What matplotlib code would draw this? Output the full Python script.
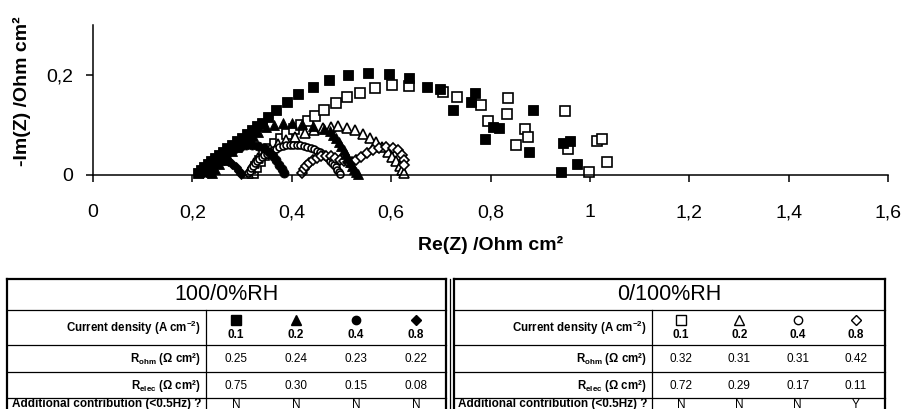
import matplotlib
matplotlib.use('Agg')
import matplotlib.pyplot as plt
from matplotlib.ticker import MultipleLocator, FuncFormatter

plt.rcParams['font.family'] = ['Liberation Sans', 'DejaVu Sans']
plt.rcParams['mathtext.default'] = 'regular'

# Nyquist data, 100/0%RH (filled markers)
x_sq_f = [0.212, 0.218, 0.224, 0.231, 0.238, 0.245, 0.253, 0.261, 0.270, 0.279, 0.289, 0.299, 0.310,
          0.320, 0.330, 0.340, 0.352, 0.368, 0.390, 0.412, 0.443, 0.475, 0.513, 0.553, 0.596, 0.636,
          0.672, 0.698, 0.724, 0.760, 0.769, 0.789, 0.805, 0.817, 0.877, 0.885, 0.942, 0.946, 0.960, 0.974]
y_sq_f = [0.004, 0.010, 0.016, 0.022, 0.028, 0.034, 0.040, 0.046, 0.053, 0.060, 0.067, 0.074, 0.082,
          0.090, 0.097, 0.104, 0.116, 0.130, 0.146, 0.162, 0.176, 0.190, 0.200, 0.204, 0.202, 0.194,
          0.176, 0.172, 0.130, 0.146, 0.164, 0.072, 0.096, 0.094, 0.046, 0.130, 0.006, 0.064, 0.068, 0.022]

x_tri_f = [0.240, 0.246, 0.253, 0.261, 0.270, 0.280, 0.290, 0.301, 0.312, 0.322, 0.332, 0.348, 0.364,
           0.382, 0.400, 0.420, 0.443, 0.465, 0.476, 0.484, 0.490, 0.495, 0.500, 0.505, 0.510, 0.514,
           0.518, 0.522, 0.526, 0.530, 0.533]
y_tri_f = [0.003, 0.012, 0.021, 0.030, 0.039, 0.048, 0.056, 0.064, 0.071, 0.078, 0.086, 0.095, 0.100,
           0.103, 0.104, 0.102, 0.098, 0.092, 0.087, 0.080, 0.073, 0.065, 0.057, 0.049, 0.041, 0.033,
           0.025, 0.018, 0.011, 0.005, 0.002]

x_circ_f = [0.232, 0.238, 0.245, 0.253, 0.262, 0.272, 0.283, 0.295, 0.308, 0.321, 0.333, 0.344, 0.354,
            0.362, 0.369, 0.375, 0.380, 0.384]
y_circ_f = [0.003, 0.012, 0.021, 0.030, 0.038, 0.045, 0.051, 0.056, 0.059, 0.060, 0.058, 0.053, 0.046,
            0.038, 0.029, 0.020, 0.011, 0.003]

x_dia_f = [0.222, 0.227, 0.233, 0.240, 0.248, 0.256, 0.264, 0.272, 0.280, 0.287, 0.293, 0.297]
y_dia_f = [0.003, 0.011, 0.018, 0.024, 0.028, 0.030, 0.030, 0.027, 0.022, 0.015, 0.008, 0.002]

# Nyquist data, 0/100%RH (open markers)
x_sq_o = [0.322, 0.328, 0.336, 0.345, 0.355, 0.366, 0.378, 0.391, 0.405, 0.418, 0.432, 0.447, 0.465,
          0.489, 0.511, 0.537, 0.567, 0.602, 0.636, 0.704, 0.732, 0.781, 0.795, 0.835, 0.833, 0.869,
          0.875, 0.852, 0.949, 0.956, 1.014, 1.024, 1.035, 0.998]
y_sq_o = [0.004, 0.016, 0.028, 0.040, 0.051, 0.062, 0.072, 0.082, 0.091, 0.100, 0.108, 0.118, 0.130,
          0.144, 0.156, 0.164, 0.174, 0.180, 0.177, 0.166, 0.155, 0.140, 0.108, 0.154, 0.122, 0.091,
          0.075, 0.060, 0.128, 0.051, 0.068, 0.072, 0.025, 0.006]

x_tri_o = [0.312, 0.317, 0.324, 0.333, 0.344, 0.357, 0.372, 0.389, 0.407, 0.426, 0.445, 0.462, 0.478,
           0.494, 0.511, 0.527, 0.543, 0.557, 0.570, 0.582, 0.593, 0.602, 0.610, 0.617, 0.622, 0.626]
y_tri_o = [0.003, 0.013, 0.023, 0.033, 0.043, 0.052, 0.061, 0.069, 0.076, 0.083, 0.089, 0.093, 0.096,
           0.097, 0.094, 0.089, 0.082, 0.074, 0.065, 0.055, 0.045, 0.036, 0.027, 0.018, 0.010, 0.003]

x_circ_o = [0.312, 0.315, 0.318, 0.322, 0.326, 0.330, 0.335, 0.340, 0.345, 0.350, 0.356, 0.362, 0.368,
            0.375, 0.382, 0.389, 0.396, 0.403, 0.410, 0.417, 0.424, 0.431, 0.438, 0.444, 0.450, 0.456,
            0.462, 0.467, 0.472, 0.477, 0.481, 0.485, 0.489, 0.492, 0.495, 0.498]
y_circ_o = [0.003, 0.008, 0.013, 0.018, 0.023, 0.027, 0.031, 0.035, 0.039, 0.042, 0.046, 0.049, 0.052,
            0.055, 0.057, 0.059, 0.060, 0.060, 0.060, 0.059, 0.058, 0.056, 0.054, 0.051, 0.048, 0.045,
            0.041, 0.037, 0.033, 0.028, 0.024, 0.019, 0.015, 0.010, 0.006, 0.002]

x_dia_o = [0.420, 0.424, 0.429, 0.435, 0.442, 0.450, 0.459, 0.468, 0.478, 0.488, 0.497, 0.505, 0.513,
           0.521, 0.530, 0.540, 0.551, 0.563, 0.576, 0.590, 0.603, 0.614, 0.622, 0.626, 0.625]
y_dia_o = [0.003, 0.011, 0.018, 0.024, 0.030, 0.034, 0.037, 0.038, 0.037, 0.034, 0.030, 0.027, 0.025,
           0.026, 0.030, 0.036, 0.043, 0.049, 0.053, 0.055, 0.054, 0.049, 0.040, 0.030, 0.020]

# table contents
current_density = ['0.1', '0.2', '0.4', '0.8']
rohm_dry = ['0.25', '0.24', '0.23', '0.22']
relec_dry = ['0.75', '0.30', '0.15', '0.08']
extra_dry = ['N', 'N', 'N', 'N']
rohm_wet = ['0.32', '0.31', '0.31', '0.42']
relec_wet = ['0.72', '0.29', '0.17', '0.11']
extra_wet = ['N', 'N', 'N', 'Y']

W, H = 906, 409


def comma(v, pos):
    return ('%g' % round(v, 3)).replace('.', ',')


def main():
    fig = plt.figure(figsize=(W / 100, H / 100), dpi=100)
    ax = fig.add_axes([93 / W, 1 - 175 / H, (888 - 93) / W, 150 / H])

    opened = [(x_sq_o, y_sq_o, 's', 6.5), (x_tri_o, y_tri_o, '^', 7.5),
              (x_circ_o, y_circ_o, 'o', 5), (x_dia_o, y_dia_o, 'D', 5)]
    filled = [(x_sq_f, y_sq_f, 's', 6.5), (x_tri_f, y_tri_f, '^', 7.5),
              (x_circ_f, y_circ_f, 'o', 6.5), (x_dia_f, y_dia_f, 'D', 5)]
    for x, y, m, ms in opened:
        ax.plot(x, y, ls='none', marker=m, ms=ms, mfc='white', mec='black', mew=1.2, clip_on=False)
    for x, y, m, ms in filled:
        ax.plot(x, y, ls='none', marker=m, ms=ms, mfc='black', mec='black', mew=0.6, clip_on=False)

    ax.set_xlim(0, 1.6)
    ax.set_ylim(0, 0.3)
    ax.xaxis.set_major_locator(MultipleLocator(0.2))
    ax.yaxis.set_major_locator(MultipleLocator(0.2))
    ax.xaxis.set_major_formatter(FuncFormatter(comma))
    ax.yaxis.set_major_formatter(FuncFormatter(comma))
    ax.spines['top'].set_visible(False)
    ax.spines['right'].set_visible(False)
    for s in ('left', 'bottom'):
        ax.spines[s].set_linewidth(1.1)
    ax.tick_params(direction='out', length=5, width=1.1, labelsize=14)
    ax.tick_params(axis='x', pad=16)
    ax.tick_params(axis='y', pad=9)
    ax.set_xlabel('Re(Z) /Ohm cm²', fontsize=14, fontweight='bold', labelpad=11)
    ax.set_ylabel('-Im(Z) /Ohm cm²', fontsize=14, fontweight='bold')
    ax.yaxis.set_label_coords(-0.078, 0.56)

    # tables drawn in pixel coordinates
    tab = fig.add_axes([0, 0, 1, 1])
    tab.set_xlim(0, W)
    tab.set_ylim(H, 0)
    tab.axis('off')

    draw_table(tab, 7, 446, 206, '100/0%RH', 'black', rohm_dry, relec_dry, extra_dry)
    tab.plot([449.5, 449.5], [279, 430], color='black', lw=0.9)
    draw_table(tab, 454, 885, 652, '0/100%RH', 'white', rohm_wet, relec_wet, extra_wet)

    fig.savefig('out.png', dpi=100)


def draw_table(tab, x0, x1, xsep, title, face, rohm, relec, extra):
    rows = [279, 310, 345, 372, 398, 430]
    for i, y in enumerate(rows):
        tab.plot([x0, x1], [y, y], color='black', lw=1.6 if i == 0 else 0.9)
    tab.plot([x0, x0], [rows[0], rows[-1]], color='black', lw=1.6)
    tab.plot([x1, x1], [rows[0], rows[-1]], color='black', lw=1.6)
    tab.plot([xsep, xsep], [rows[1], rows[-1]], color='black', lw=0.9)

    tab.text((x0 + x1) / 2, 295, title, ha='center', va='center', fontsize=15.5)
    lx = xsep - 5
    tab.text(lx, 328, r'Current density (A cm$^{-2}$)', ha='right', va='center', fontsize=8.3,
             fontweight='bold')
    tab.text(lx, 359, r'R$_{ohm}$ ($\Omega$ cm²)', ha='right', va='center', fontsize=8.3, fontweight='bold')
    tab.text(lx, 386, r'R$_{elec}$ ($\Omega$ cm²)', ha='right', va='center', fontsize=8.3, fontweight='bold')
    tab.text(lx, 404.5, 'Additional contribution (<0.5Hz) ?', ha='right', va='center', fontsize=8.5,
             fontweight='bold')

    markers = [('s', 6.5), ('^', 7.5), ('o', 6), ('D', 5)]
    cw = (x1 - xsep) / 4
    for i in range(4):
        cx = xsep + cw * (i + 0.5)
        m, ms = markers[i]
        tab.plot([cx], [320], ls='none', marker=m, ms=ms, mfc=face, mec='black', mew=1.0)
        tab.text(cx, 335.5, current_density[i], ha='center', va='center', fontsize=8.5, fontweight='bold')
        tab.text(cx, 359, rohm[i], ha='center', va='center', fontsize=8.5)
        tab.text(cx, 386, relec[i], ha='center', va='center', fontsize=8.5)
        tab.text(cx, 404.5, extra[i], ha='center', va='center', fontsize=8.5)


if __name__ == '__main__':
    main()
